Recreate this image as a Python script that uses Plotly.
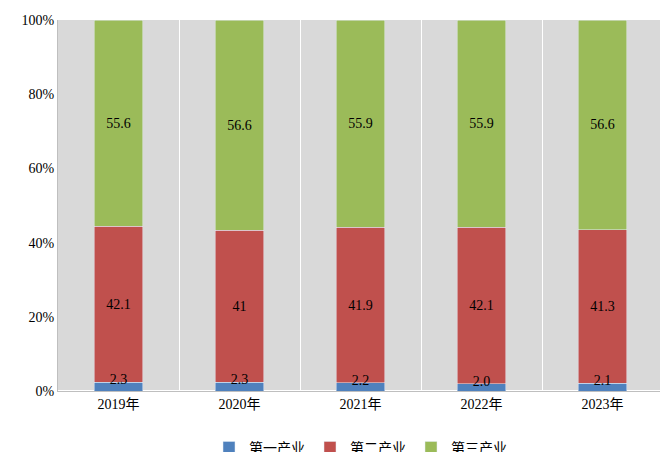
import plotly.graph_objects as go

years = ["2019年", "2020年", "2021年", "2022年", "2023年"]
primary = [2.3, 2.3, 2.2, 2.0, 2.1]
secondary = [42.1, 41, 41.9, 42.1, 41.3]
tertiary = [55.6, 56.6, 55.9, 55.9, 56.6]
primary_text = ["2.3", "2.3", "2.2", "2.0", "2.1"]

fig = go.Figure()
for name, vals, txt, color in [
    ("第一产业", primary, None, "#4f81bd"),
    ("第二产业", secondary, [str(v) for v in secondary], "#c0504d"),
    ("第三产业", tertiary, [str(v) for v in tertiary], "#9bbb59"),
]:
    fig.add_bar(x=years, y=vals, name=name, marker_color=color, text=txt,
                textposition="inside" if txt else "none", insidetextanchor="middle",
                textfont=dict(color="black", size=14), width=0.4)

# small first-sector labels drawn over the thin segments
fig.add_scatter(x=years, y=[v * 1.2 for v in primary], mode="text", text=primary_text,
                textfont=dict(color="black", size=14), showlegend=False,
                hoverinfo="skip", cliponaxis=False)

fig.update_layout(
    barmode="stack", width=668, height=452,
    paper_bgcolor="white", plot_bgcolor="#d9d9d9",
    font=dict(family="Liberation Serif, Noto Sans CJK SC", size=14, color="black"),
    margin=dict(l=50, r=13, t=12, b=69, autoexpand=False),
    legend=dict(orientation="h", x=0.5, xanchor="center", y=-0.11, yanchor="top",
                traceorder="normal", font=dict(size=14), itemwidth=30),
    showlegend=True,
)
fig.update_xaxes(tickson="boundaries", showgrid=True, gridcolor="white", gridwidth=1,
                 ticks="", showline=True, linecolor="#bfbfbf", automargin=False)
fig.update_yaxes(range=[0, 100], dtick=20, ticksuffix="%", showgrid=False,
                 showline=True, linecolor="#bfbfbf", ticks="", automargin=False)
fig.write_html("out.html")
